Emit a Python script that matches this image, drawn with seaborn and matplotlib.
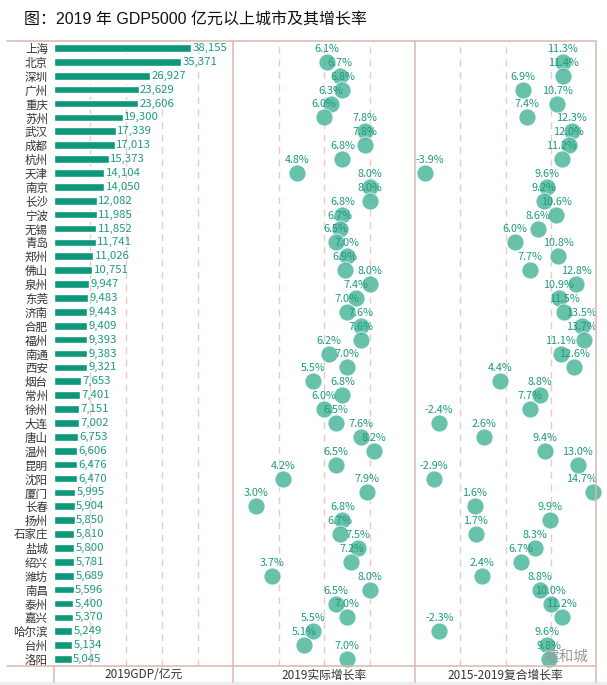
import numpy as np
import pandas as pd
import matplotlib
matplotlib.use("Agg")
import matplotlib.pyplot as plt
from matplotlib.lines import Line2D
from matplotlib.patches import Rectangle
import seaborn as sns

cities = ["上海", "北京", "深圳", "广州", "重庆", "苏州", "武汉", "成都", "杭州", "天津",
          "南京", "长沙", "宁波", "无锡", "青岛", "郑州", "佛山", "泉州", "东莞", "济南",
          "合肥", "福州", "南通", "西安", "烟台", "常州", "徐州", "大连", "唐山", "温州",
          "昆明", "沈阳", "厦门", "长春", "扬州", "石家庄", "盐城", "绍兴", "潍坊", "南昌",
          "泰州", "嘉兴", "哈尔滨", "台州", "洛阳"]
gdp = [38155, 35371, 26927, 23629, 23606, 19300, 17339, 17013, 15373, 14104,
       14050, 12082, 11985, 11852, 11741, 11026, 10751, 9947, 9483, 9443,
       9409, 9393, 9383, 9321, 7653, 7401, 7151, 7002, 6753, 6606,
       6476, 6470, 5995, 5904, 5850, 5810, 5800, 5781, 5689, 5596,
       5400, 5370, 5249, 5134, 5045]
growth_2019 = [6.1, 6.7, 6.8, 6.3, 6.0, 7.8, 7.8, 6.8, 4.8, 8.0,
               8.0, 6.8, 6.7, 6.5, 7.0, 6.9, 8.0, 7.4, 7.0, 7.6,
               7.6, 6.2, 7.0, 5.5, 6.8, 6.0, 6.5, 7.6, 8.2, 6.5,
               4.2, 7.9, 3.0, 6.8, 6.7, 7.5, 7.2, 3.7, 8.0, 6.5,
               7.0, 5.5, 5.1, 7.0]
cagr_15_19 = [11.3, 11.4, 6.9, 10.7, 7.4, 12.3, 12.0, 11.2, -3.9, 9.6,
              9.2, 10.6, 8.6, 6.0, 10.8, 7.7, 12.8, 10.9, 11.5, 13.5,
              13.7, 11.1, 12.6, 4.4, 8.8, 7.7, -2.4, 2.6, 9.4, 13.0,
              -2.9, 14.7, 1.6, 9.9, 1.7, 8.3, 6.7, 2.4, 8.8, 10.0,
              11.2, -2.3, 9.6, 9.8]
panel_titles = ["2019GDP/亿元", "2019实际增长率", "2015-2019复合增长率"]
title = "图：2019 年 GDP5000 亿元以上城市及其增长率"

sns.set_theme(style="white")
plt.rcParams['font.family'] = ['Noto Sans CJK SC', 'DejaVu Sans']

W, H = 607, 685
fig = plt.figure(figsize=(W / 100, H / 100), dpi=100)
fig.patch.set_facecolor("white")

def fx(x):
    return x / W

def fy(y):
    return 1 - y / H

top_px, bot_px = 41, 666
x_edges = [53.5, 233.5, 415, 596]
border = "#D9B8AC"
grid_c = "#E6CCC4"
bar_c = "#0E977A"
dot_c = "#4DB89D"
txt_teal = "#1E9A7E"

axes = []
for i in range(3):
    ax = fig.add_axes([fx(x_edges[i]), fy(bot_px), fx(x_edges[i + 1] - x_edges[i]),
                       (bot_px - top_px) / H])
    ax.set_facecolor("none")
    for s in ax.spines.values():
        s.set_visible(False)
    axes.append(ax)

n = len(cities)
# Panel 1: bars
ax1 = axes[0]
df = pd.DataFrame({"city": cities, "gdp": gdp})
sns.barplot(data=df, x="gdp", y="city", orient="h", ax=ax1, color=bar_c,
            saturation=1, width=0.55, zorder=3)
ax1.set_xlim(0, 50000)
ax1.set_ylim(n - 0.5, -0.5)
ax1.set_xticks([10000, 20000, 30000, 40000])
ax1.grid(axis="x", color=grid_c, ls=(0, (5, 4)), lw=1)
ax1.grid(axis="y", visible=False)
ax1.tick_params(length=0, labelbottom=False, labelsize=8.3, colors="#333333", pad=4)
ax1.set_xlabel("")
ax1.set_ylabel("")
for i, v in enumerate(gdp):
    ax1.text(v + 400, i, f"{v:,}", va="center", ha="left", fontsize=8.2,
             color=txt_teal, zorder=4)

# Panels 2 and 3: dots
def dot_panel(ax, vals, xlim, ticks):
    rows = np.arange(1, len(vals) + 1)
    d = pd.DataFrame({"v": vals, "r": rows})
    sns.scatterplot(data=d, x="v", y="r", ax=ax, s=150, color=dot_c, alpha=0.85,
                    edgecolor="white", linewidth=0.6, legend=False, zorder=3,
                    clip_on=False)
    ax.set_xlim(*xlim)
    ax.set_ylim(n - 0.5, -0.5)
    ax.set_xticks(ticks)
    ax.grid(axis="x", color=grid_c, ls=(0, (5, 4)), lw=1)
    ax.grid(axis="y", visible=False)
    ax.tick_params(length=0, labelbottom=False, labelleft=False)
    ax.set_xlabel("")
    ax.set_ylabel("")
    span = xlim[1] - xlim[0]
    lo, hi = xlim[0] + 0.083 * span, xlim[1] - 0.083 * span
    for v, r in zip(vals, rows):
        ax.text(min(max(v, lo), hi), r - 0.93, f"{v:.1f}%", ha="center",
                va="center", fontsize=7.8, color=txt_teal, zorder=5)

dot_panel(axes[1], growth_2019, (2, 10), [4, 6, 8])
dot_panel(axes[2], cagr_15_19, (-5, 15), [0, 5, 10])

# table borders
def hline(y, x0, x1):
    fig.add_artist(Line2D([fx(x0), fx(x1)], [fy(y), fy(y)], color=border, lw=1.1))

def vline(x, y0, y1):
    fig.add_artist(Line2D([fx(x), fx(x)], [fy(y0), fy(y1)], color=border, lw=1.1))

hline(top_px, 7, 596)
hline(bot_px, 7, 596)
vline(53.5, bot_px, 682)
for x in x_edges[1:]:
    vline(x, top_px, 682)

for i, t in enumerate(panel_titles):
    fig.text(fx((x_edges[i] + x_edges[i + 1]) / 2), fy(675), t, ha="center",
             va="center", fontsize=8.5, color="#333333")

fig.add_artist(Rectangle((0, 0), 1, fy(682), transform=fig.transFigure,
                         color="#EDEDED", zorder=0))

fig.text(fx(24), fy(20), title, ha="left", va="center", fontsize=11.5,
         color="#111111", family=['Liberation Sans', 'Noto Sans CJK SC'])

fig.text(fx(566), fy(657), "建和城", ha="center", va="center", fontsize=10.5,
         color="#9A9A9A", zorder=6)

fig.savefig("out.png", dpi=100, facecolor="white")
